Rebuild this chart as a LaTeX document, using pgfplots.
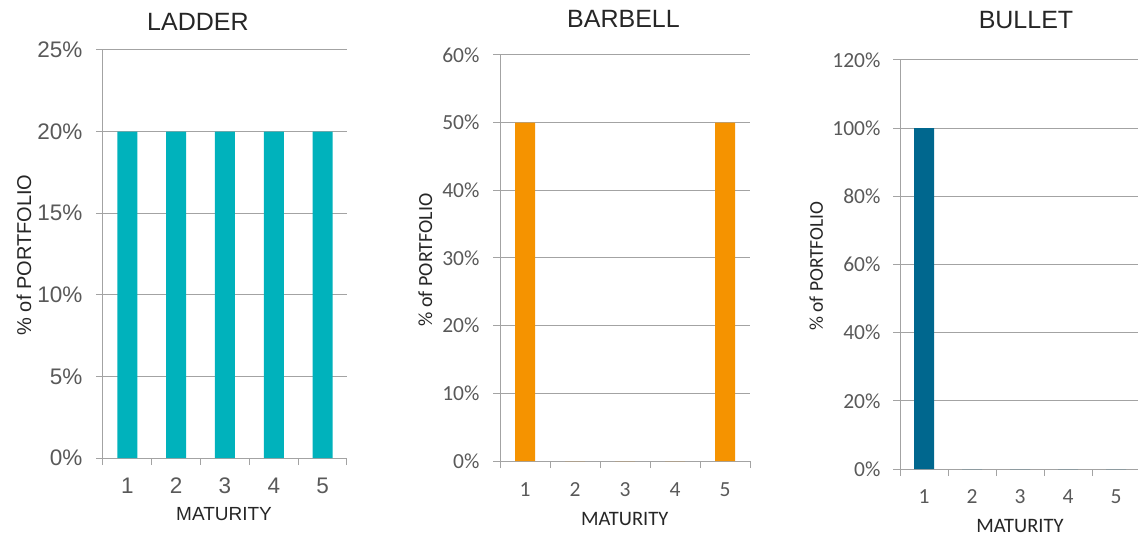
\documentclass[border=0pt]{standalone}
\usepackage{pgfplots}
\pgfplotsset{compat=1.18}
\usepackage{fontspec}
\setmainfont{Liberation Sans}
\newfontfamily\calibri{Carlito}
\definecolor{ladder}{HTML}{00B2BC}
\definecolor{barbell}{HTML}{F59300}
\definecolor{bullet}{HTML}{00678E}
\definecolor{gridgray}{HTML}{A3A3A3}
\definecolor{ticktext}{HTML}{595959}
\definecolor{labeltext}{HTML}{262626}
\pgfplotsset{
  panel/.style={
    scale only axis,
    anchor=south west,
    axis lines*=left,
    axis line style={draw=gridgray, line width=1pt},
    tick align=outside,
    xmin=0.5, xmax=5.5, ymin=0,
    xtick={1,2,3,4,5},
    xticklabels={1,2,3,4,5},
    major x tick style={draw=none},
    minor xtick={0.5,1.5,2.5,3.5,4.5,5.5},
    minor x tick style={draw=gridgray, line width=1pt},
    minor tick length=7pt,
    major tick length=7pt,
    ytick style={draw=gridgray, line width=1pt},
    ymajorgrids,
    grid style={draw=gridgray, line width=1pt},
    ybar, bar width=20pt,
    xticklabel style={anchor=base, text=ticktext},
    yticklabel style={anchor=east, text=ticktext},
    title style={anchor=base, font=\fontsize{25}{25}\selectfont, text=labeltext},
    xlabel={MATURITY},
    ylabel={\% of PORTFOLIO},
    xlabel style={anchor=base, text=labeltext},
    ylabel style={anchor=base, text=labeltext},
  }
}
\begin{document}
\begin{tikzpicture}
\path[use as bounding box] (0,0) rectangle (1138pt,536pt);

% LADDER
\begin{axis}[panel,
  at={(103pt,78pt)}, width=244pt, height=408pt,
  ymax=25, ytick={0,5,10,15,20,25},
  yticklabels={0\%,5\%,10\%,15\%,20\%,25\%},
  ticklabel style={font=\fontsize{22.5}{22.5}\selectfont},
  xticklabel style={yshift=-28pt},
  yticklabel style={xshift=-10pt},
  title={LADDER},
  title style={at={(axis description cs:0.389,1.034)}},
  xlabel style={at={(axis description cs:0.496,-0.154)}, font=\fontsize{19}{19}\selectfont},
  ylabel style={at={(axis description cs:-0.295,0.4975)}, font=\fontsize{20}{20}\selectfont},
]
\addplot[fill=ladder, draw=none] coordinates {(1,20) (2,20) (3,20) (4,20) (5,20)};
\end{axis}

% BARBELL
\begin{axis}[panel,
  at={(500pt,75pt)}, width=250pt, height=406pt,
  ymax=60, ytick={0,10,20,30,40,50,60},
  yticklabels={0\%,10\%,20\%,30\%,40\%,50\%,60\%},
  ticklabel style={font=\calibri\fontsize{21.5}{21.5}\selectfont},
  xticklabel style={yshift=-28pt},
  yticklabel style={xshift=-10pt},
  title={BARBELL},
  title style={at={(axis description cs:0.494,1.052)}},
  xlabel style={at={(axis description cs:0.499,-0.160)}, font=\calibri\fontsize{20.5}{20.5}\selectfont},
  ylabel style={at={(axis description cs:-0.272,0.495)}, font=\calibri\fontsize{20}{20}\selectfont},
]
\addplot[fill=barbell, draw=none] coordinates {(1,50) (2,0) (3,0) (4,0) (5,50)};
\end{axis}

% BULLET
\begin{axis}[panel,
  at={(900pt,67pt)}, width=240pt, height=409pt,
  ymax=120, ytick={0,20,40,60,80,100,120},
  yticklabels={0\%,20\%,40\%,60\%,80\%,100\%,120\%},
  ticklabel style={font=\calibri\fontsize{21.5}{21.5}\selectfont},
  xticklabel style={yshift=-27pt},
  yticklabel style={xshift=-9pt},
  title={BULLET},
  title style={at={(axis description cs:0.525,1.063)}},
  xlabel style={at={(axis description cs:0.5,-0.156)}, font=\calibri\fontsize{20.5}{20.5}\selectfont},
  ylabel style={at={(axis description cs:-0.321,0.496)}, font=\calibri\fontsize{19.5}{19.5}\selectfont},
]
\addplot[fill=bullet, draw=none] coordinates {(1,100) (2,0) (3,0) (4,0) (5,0)};
\end{axis}
\end{tikzpicture}
\end{document}
